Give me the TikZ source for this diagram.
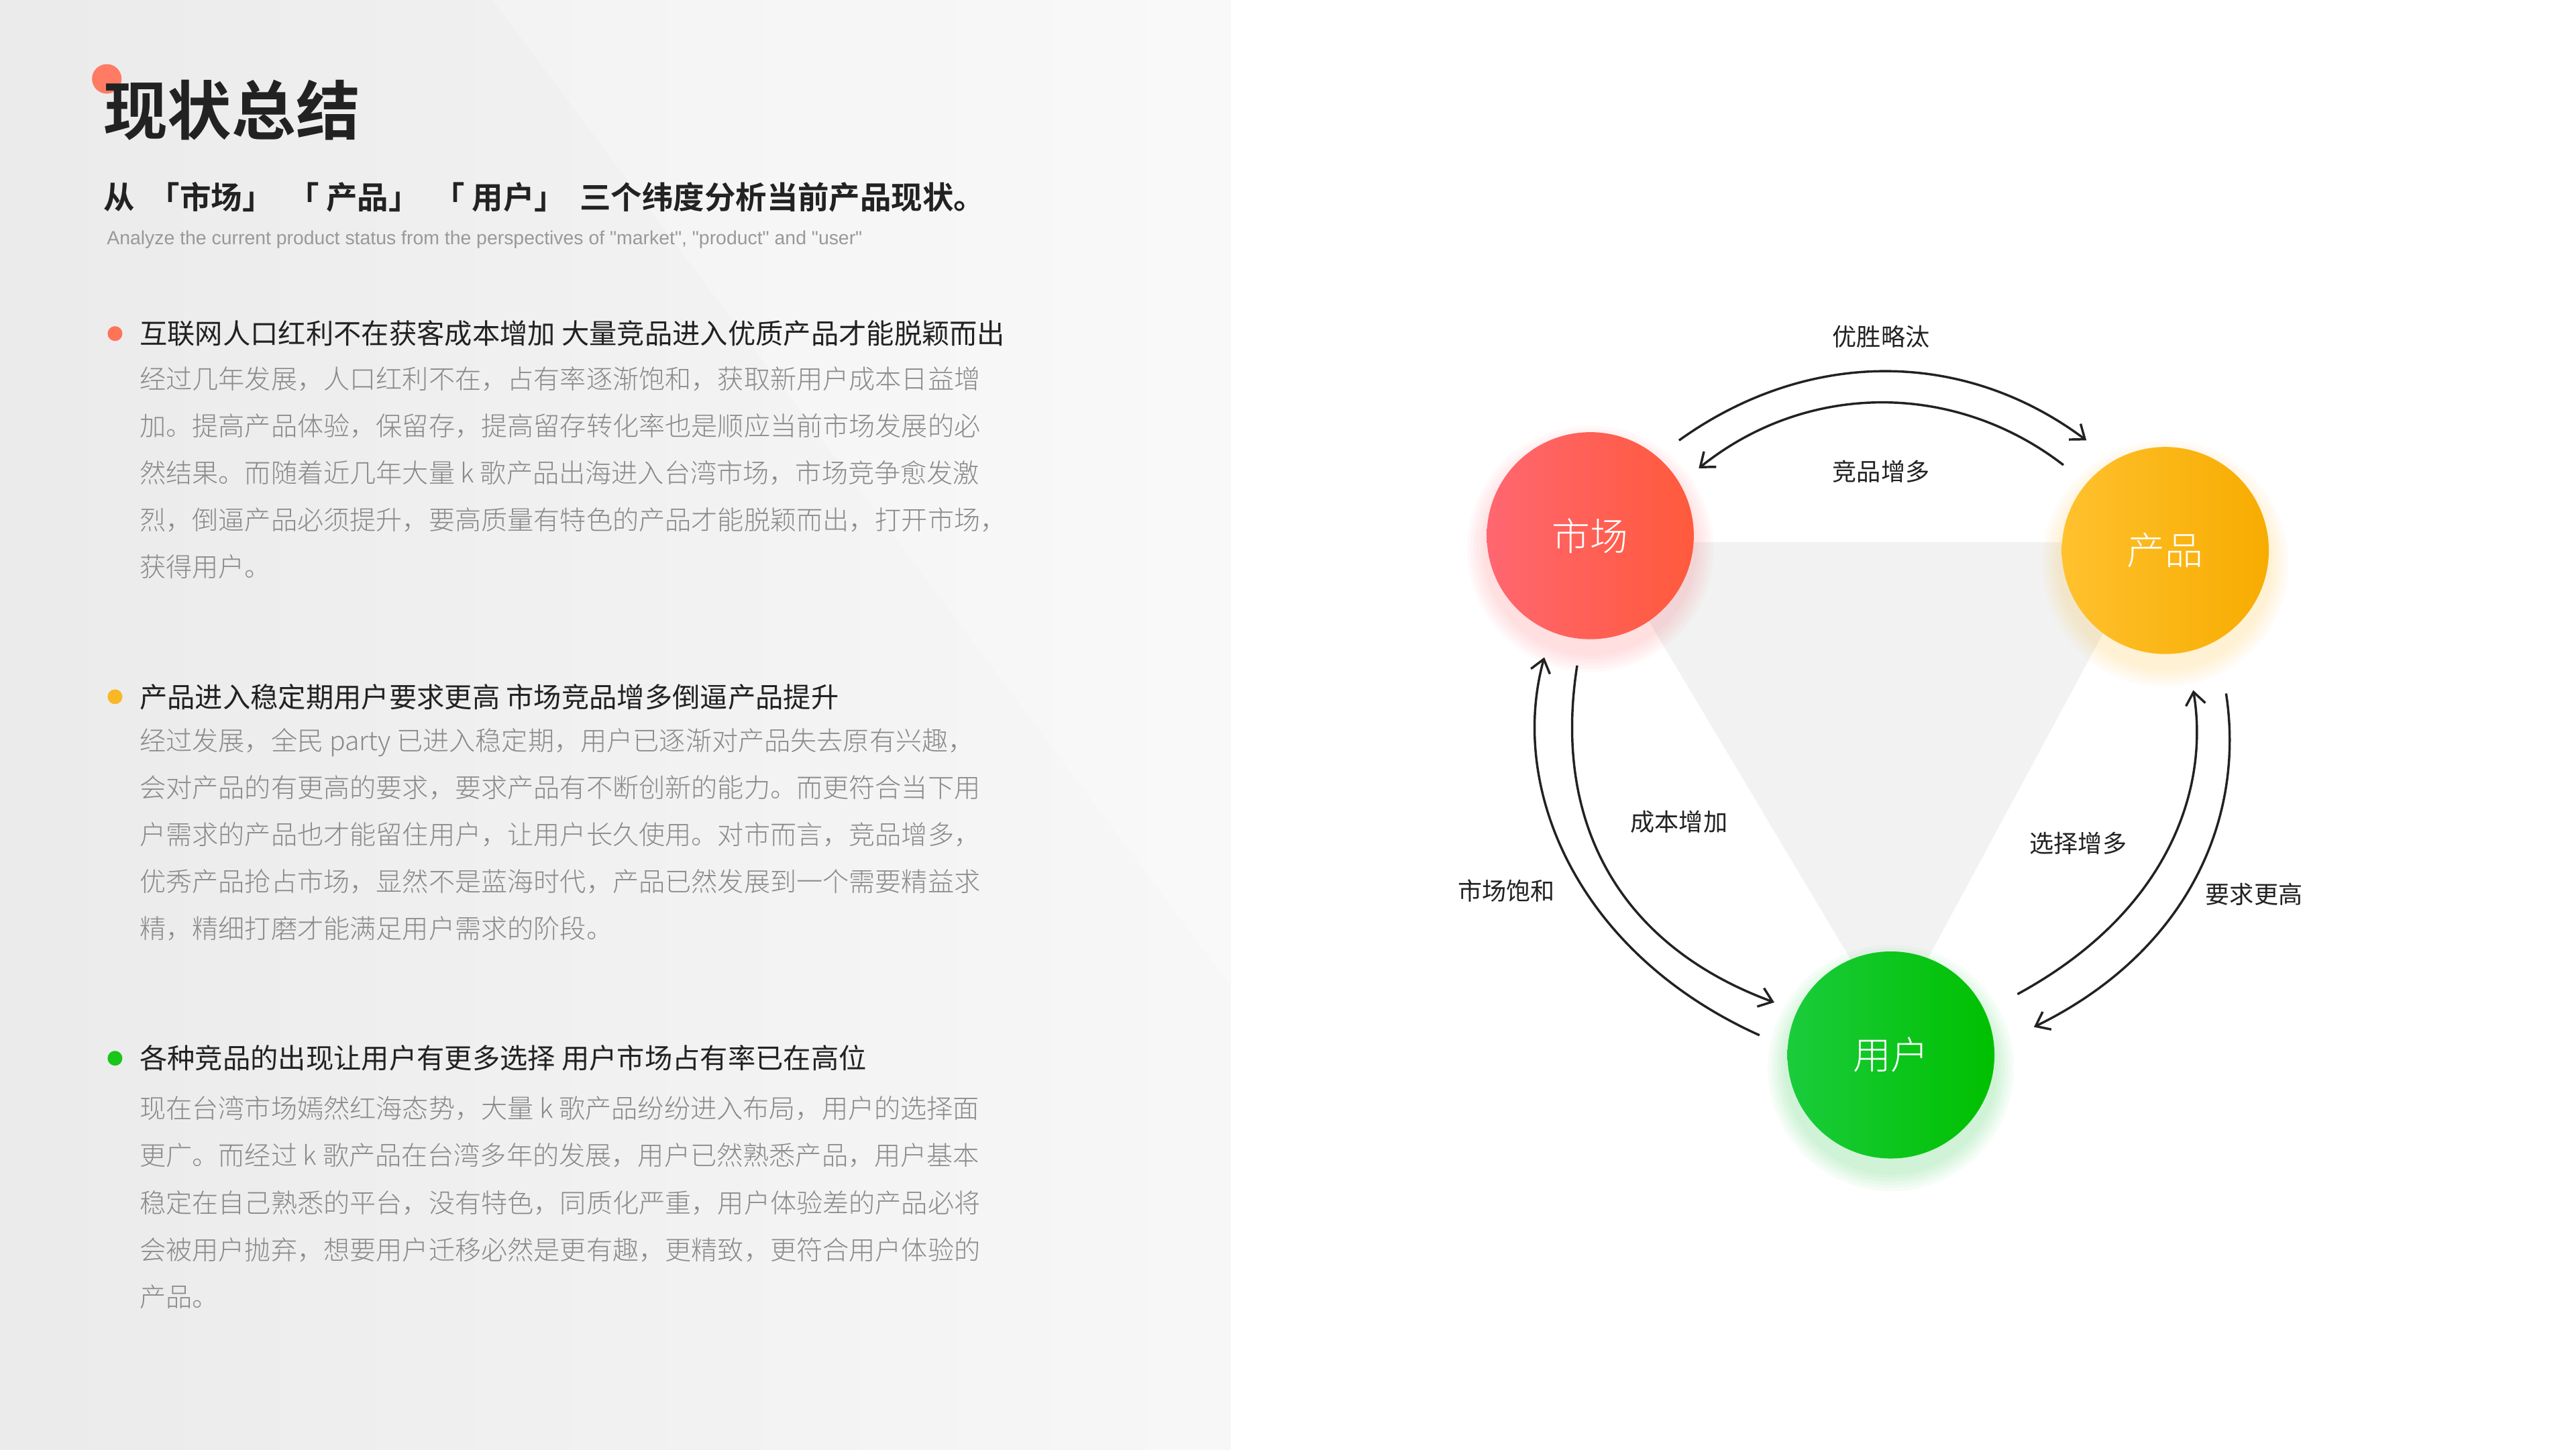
\documentclass[tikz,border=0pt]{standalone}
\usepackage{fontspec}
\setmainfont{Noto Sans CJK SC}
\newfontfamily\cjkb[BoldFont={Noto Sans CJK SC Bold}]{Noto Sans CJK SC}
\newfontfamily\cjkl{Noto Sans CJK SC Light}
\newfontfamily\engf{Liberation Sans}
\usetikzlibrary{arrows.meta,calc}
\definecolor{txt}{HTML}{222222}
\definecolor{gtxt}{HTML}{8A8A8A}
\definecolor{rA}{HTML}{FF6670}\definecolor{rB}{HTML}{FF5A3C}
\definecolor{yA}{HTML}{FFC12E}\definecolor{yB}{HTML}{F7AC00}
\definecolor{gA}{HTML}{1ACC3C}\definecolor{gB}{HTML}{00C000}
\tikzset{
 ball/.style={circle,minimum size=12.6cm,inner sep=0pt,text=white,font=\cjkl\fontsize{66}{66}\selectfont,shading angle=-60},
 cyc/.style={draw=txt,line width=4pt,-{Straight Barb[length=22pt,width=34pt,line width=4pt]}},
 albl/.style={text=txt,font=\fontsize{42}{42}\selectfont},
 head/.style={anchor=west,text=txt,font=\fontsize{48}{48}\selectfont},
 bodyt/.style={anchor=north west,text=gtxt,align=left,font=\cjkl\fontsize{45.5}{81.5}\selectfont},
 dotb/.style={circle,inner sep=0pt,minimum size=0.9cm},
}
\begin{document}
\begin{tikzpicture}[x=0.1cm,y=-0.1cm]
\useasboundingbox (0,0) rectangle (1568,882);
\fill[white] (0,0) rectangle (1568,882);
\shade[left color=black!8,right color=black!3] (0,0) rectangle (749,882);
\fill[white,opacity=0.25] (300,0) -- (749,0) -- (749,600) -- cycle;
% title
\node[circle,fill=rB!80,inner sep=0pt,minimum size=1.8cm] (rd) at (65,48) {};
\node[anchor=west,text=txt,inner sep=0pt,font=\cjkb\bfseries\fontsize{111}{111}\selectfont] (title) at (63,67) {现状总结};
\node[anchor=west,text=txt,inner sep=0pt,font=\cjkb\bfseries\fontsize{54}{54}\selectfont] (sub) at (63,120) {从\ \ 「市场」\ \ 「 产品」\ \ 「 用户」\ \ 三个纬度分析当前产品现状。};
\node[anchor=west,text=black!40,inner sep=0pt,font=\engf\fontsize{33}{33}\selectfont] (eng) at (65,146) {Analyze the current product status from the perspectives of \symbol{34}market\symbol{34}, \symbol{34}product\symbol{34} and \symbol{34}user\symbol{34}};
% bullets
\node[dotb,fill=rB!85] (d1) at (70,203) {};
\node[head,inner sep=0pt] (h1) at (85,203) {互联网人口红利不在获客成本增加 大量竞品进入优质产品才能脱颖而出};
\node[bodyt,inner sep=0pt] (b1) at (85,223) {经过几年发展，人口红利不在，占有率逐渐饱和，获取新用户成本日益增\\加。提高产品体验，保留存，提高留存转化率也是顺应当前市场发展的必\\然结果。而随着近几年大量 k 歌产品出海进入台湾市场，市场竞争愈发激\\烈，倒逼产品必须提升，要高质量有特色的产品才能脱颖而出，打开市场，\\获得用户。};
\node[dotb,fill=yB!85] (d2) at (70,424) {};
\node[head,inner sep=0pt] (h2) at (85,424) {产品进入稳定期用户要求更高 市场竞品增多倒逼产品提升};
\node[bodyt,inner sep=0pt] (b2) at (85,443) {经过发展，全民 party 已进入稳定期，用户已逐渐对产品失去原有兴趣，\\会对产品的有更高的要求，要求产品有不断创新的能力。而更符合当下用\\户需求的产品也才能留住用户，让用户长久使用。对市而言，竞品增多，\\优秀产品抢占市场，显然不是蓝海时代，产品已然发展到一个需要精益求\\精，精细打磨才能满足用户需求的阶段。};
\node[dotb,fill=gB!90] (d3) at (70,644) {};
\node[head,inner sep=0pt] (h3) at (85,644) {各种竞品的出现让用户有更多选择 用户市场占有率已在高位};
\node[bodyt,inner sep=0pt] (b3) at (85,667) {现在台湾市场嫣然红海态势，大量 k 歌产品纷纷进入布局，用户的选择面\\更广。而经过 k 歌产品在台湾多年的发展，用户已然熟悉产品，用户基本\\稳定在自己熟悉的平台，没有特色，同质化严重，用户体验差的产品必将\\会被用户抛弃，想要用户迁移必然是更有趣，更精致，更符合用户体验的\\产品。};
% diagram
\fill[black!5] (975,330) -- (1310,330) -- (1151,625) -- cycle;
\foreach \p/\c in {{968,326}/rA,{1318,335}/yA,{1151,642}/gA}
  \foreach \k in {1,...,6} \fill[\c,opacity=0.035] ($(\p)+(0,8)$) circle ({63+2*\k});
\node[ball,left color=rA,right color=rB] (mkt) at (968,326) {市场};
\node[ball,left color=yA,right color=yB] (prd) at (1318,335) {产品};
\node[ball,left color=gA,right color=gB] (usr) at (1151,642) {用户};
\coordinate (t1s) at (1022,268); \coordinate (t1e) at (1270,268);
\coordinate (t2s) at (1256,283); \coordinate (t2e) at (1034,285);
\coordinate (l1s) at (1071,630); \coordinate (l1e) at (940,400);
\coordinate (l2s) at (960,405);  \coordinate (l2e) at (1080,610);
\coordinate (r1s) at (1228,605); \coordinate (r1e) at (1335,420);
\coordinate (r2s) at (1355,422); \coordinate (r2e) at (1238,625);
\draw[cyc] (t1s) .. controls (1100,212) and (1195,212) .. (t1e);
\draw[cyc] (t2s) .. controls (1190,232) and (1100,232) .. (t2e);
\draw[cyc] (l1s) .. controls (960,580) and (918,480) .. (l1e);
\draw[cyc] (l2s) .. controls (945,500) and (985,575) .. (l2e);
\draw[cyc] (r1s) .. controls (1320,555) and (1345,480) .. (r1e);
\draw[cyc] (r2s) .. controls (1367,500) and (1330,580) .. (r2e);
\node[albl] (a1) at (1145,205) {优胜略汰};
\node[albl] (a2) at (1145,287) {竞品增多};
\node[albl] (a3) at (917,542) {市场饱和};
\node[albl] (a4) at (1022,500) {成本增加};
\node[albl] (a5) at (1265,513) {选择增多};
\node[albl] (a6) at (1372,544) {要求更高};
\end{tikzpicture}
\end{document}
